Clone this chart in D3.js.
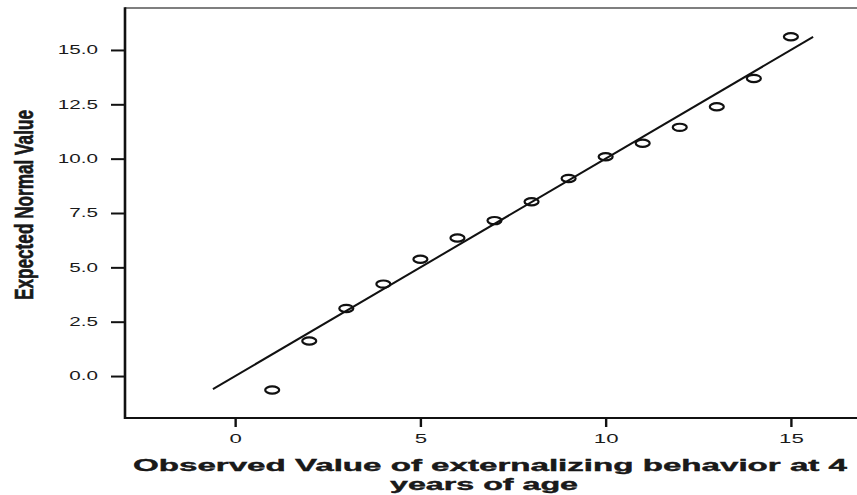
<!DOCTYPE html>
<html>
<head>
<meta charset="utf-8">
<script src="https://cdn.jsdelivr.net/npm/d3@7/dist/d3.min.js"></script>
<style>
  html, body { margin: 0; padding: 0; background: #fff; }
  svg { display: block; }
  text { font-family: "Liberation Sans", Arial, sans-serif; fill: #1a1a1a; }
</style>
</head>
<body>
<svg id="chart" width="857" height="495"></svg>
<script>
// ---- data ----
const observed = [1, 2, 3, 4, 5, 6, 7, 8, 9, 10, 11, 12, 13, 14, 15];
const expected = [-0.64, 1.61, 3.11, 4.23, 5.37, 6.35, 7.15, 8.02, 9.09, 10.09, 10.71, 11.44, 12.39, 13.69, 15.61];
const refLineX = [-0.6, 15.6];
const refLineY = [-0.6, 15.6];
const xTicks = [0, 5, 10, 15];
const yTicks = [0, 2.5, 5, 7.5, 10, 12.5, 15];
const xTitle1 = "Observed Value of externalizing behavior at 4";
const xTitle2 = "years of age";
const yTitle = "Expected Normal Value";

// ---- layout ----
const svg = d3.select("#chart");
const plotLeft = 125, plotTop = 8, plotBottom = 418, plotRight = 865;

const x = d3.scaleLinear().domain([-3, 17]).range([124, plotRight]);
const y = d3.scaleLinear().domain([-1.93, 16.93]).range([plotBottom, plotTop]);

// frame
svg.append("line").attr("x1", plotLeft).attr("x2", 860).attr("y1", plotTop).attr("y2", plotTop)
  .attr("stroke", "#555").attr("stroke-width", 1.6);
svg.append("line").attr("x1", plotLeft).attr("x2", 860).attr("y1", plotBottom).attr("y2", plotBottom)
  .attr("stroke", "#111").attr("stroke-width", 2);
svg.append("line").attr("x1", plotLeft).attr("x2", plotLeft).attr("y1", plotTop - 0.8).attr("y2", plotBottom + 1)
  .attr("stroke", "#111").attr("stroke-width", 2.6);

function stretchText(sel, k) {
  sel.each(function () {
    const w = this.getComputedTextLength();
    d3.select(this).attr("textLength", w * k).attr("lengthAdjust", "spacingAndGlyphs");
  });
}

// y axis
const yAxis = svg.append("g").attr("transform", `translate(${plotLeft},0)`)
  .call(d3.axisLeft(y).tickValues(yTicks).tickFormat(d3.format(".1f")).tickSize(14).tickPadding(13));
yAxis.select(".domain").remove();
yAxis.selectAll(".tick line").attr("stroke", "#111").attr("stroke-width", 2);
yAxis.selectAll(".tick text").attr("font-size", 12).attr("fill", "#222")
  .attr("font-family", "Liberation Sans, Arial, sans-serif");
stretchText(yAxis.selectAll(".tick text"), 1.72);

// x axis
const xAxis = svg.append("g").attr("transform", `translate(0,${plotBottom})`)
  .call(d3.axisBottom(x).tickValues(xTicks).tickFormat(d3.format("d")).tickSize(9).tickPadding(0));
xAxis.select(".domain").remove();
xAxis.selectAll(".tick line").attr("stroke", "#111").attr("stroke-width", 2.4);
xAxis.selectAll(".tick text").attr("font-size", 12).attr("fill", "#222")
  .attr("font-family", "Liberation Sans, Arial, sans-serif")
  .attr("y", 25).attr("dy", 0);
stretchText(xAxis.selectAll(".tick text"), 1.85);

// reference line
svg.append("line")
  .attr("x1", x(refLineX[0])).attr("y1", y(refLineY[0]))
  .attr("x2", x(refLineX[1])).attr("y2", y(refLineY[1]))
  .attr("stroke", "#111").attr("stroke-width", 2);

// points
svg.append("g").selectAll("ellipse").data(observed.map((o, i) => [o, expected[i]])).join("ellipse")
  .attr("cx", d => x(d[0])).attr("cy", d => y(d[1]))
  .attr("rx", 7).attr("ry", 3.6)
  .attr("fill", "none").attr("stroke", "#111").attr("stroke-width", 2.2);

// x title
svg.append("text").attr("x", 490).attr("y", 470.5).attr("text-anchor", "middle")
  .attr("font-size", 17).attr("font-weight", "bold").attr("fill", "#111")
  .attr("stroke", "#111").attr("stroke-width", 0.4)
  .attr("textLength", 714).attr("lengthAdjust", "spacingAndGlyphs").text(xTitle1);
svg.append("text").attr("x", 484).attr("y", 489.5).attr("text-anchor", "middle")
  .attr("font-size", 17).attr("font-weight", "bold").attr("fill", "#111")
  .attr("stroke", "#111").attr("stroke-width", 0.4)
  .attr("textLength", 188).attr("lengthAdjust", "spacingAndGlyphs").text(xTitle2);

// y title
svg.append("text").attr("transform", "translate(33,205) rotate(-90)").attr("text-anchor", "middle")
  .attr("font-size", 25).attr("font-weight", "bold").attr("fill", "#111")
  .attr("stroke", "#111").attr("stroke-width", 0.6)
  .attr("textLength", 190).attr("lengthAdjust", "spacingAndGlyphs").text(yTitle);
</script>
</body>
</html>
